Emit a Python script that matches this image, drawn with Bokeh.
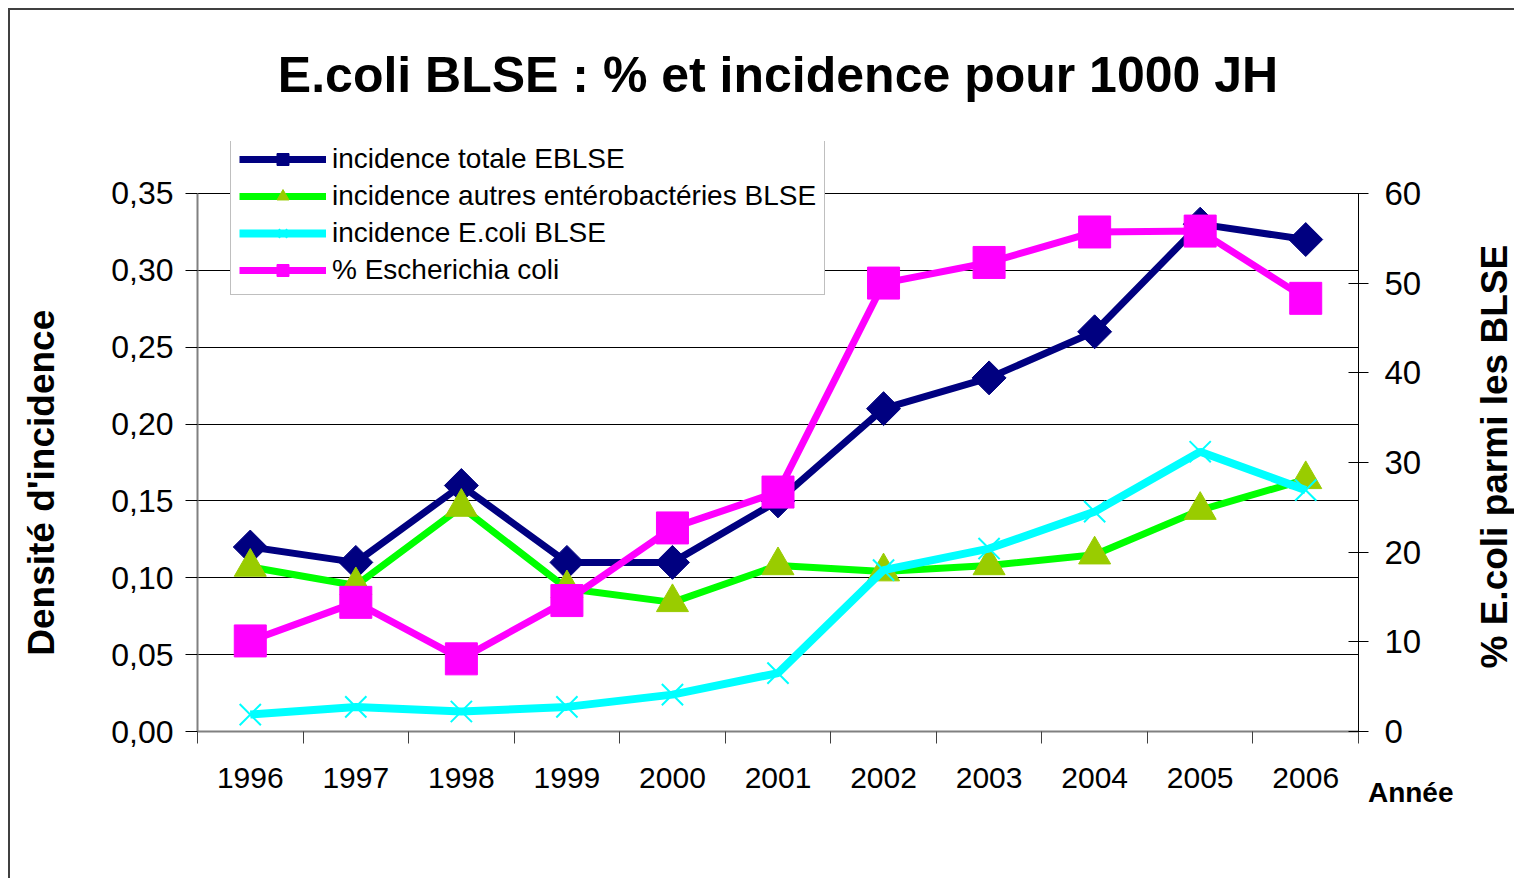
import math
from bokeh.plotting import figure
from bokeh.layouts import row
from bokeh.models import (Range1d, LinearAxis, FixedTicker, CustomJSTickFormatter,
                          Legend, LegendItem, Title)
from bokeh.embed import file_html
from bokeh.resources import INLINE

# ---- data ----
years = [1996, 1997, 1998, 1999, 2000, 2001, 2002, 2003, 2004, 2005, 2006]
incidence_totale = [0.12, 0.11, 0.16, 0.11, 0.11, 0.15, 0.21, 0.23, 0.26, 0.33, 0.32]
incidence_autres = [0.107, 0.095, 0.146, 0.093, 0.084, 0.108, 0.104, 0.108, 0.115, 0.144, 0.164]
incidence_ecoli = [0.011, 0.016, 0.013, 0.016, 0.024, 0.038, 0.105, 0.119, 0.143, 0.182, 0.157]
pct_ecoli = [10.1, 14.4, 8.1, 14.6, 22.7, 26.7, 50.0, 52.3, 55.7, 55.8, 48.3]
left_ticks = [0.0, 0.05, 0.10, 0.15, 0.20, 0.25, 0.30, 0.35]
right_ticks = [0, 10, 20, 30, 40, 50, 60]
year_labels = {y: str(y) for y in years}

title_text = "E.coli BLSE : % et incidence pour 1000 JH"
labels = ["incidence totale EBLSE", "incidence autres entérobactéries BLSE",
          "incidence E.coli BLSE", "% Escherichia coli"]
x_title = "Année"
left_title = "Densité d'incidence"
right_title = "% E.coli parmi les BLSE"

FONT = "Liberation Sans"
NBSP = "\u00a0"

# headroom above the top gridline so the legend (which straddles it) is not clipped
HEAD = 591 / 539
BORDER_TOP = 130
BORDER_BOTTOM = 147

p = figure(width=1448, height=868, output_backend="svg", toolbar_location=None,
           x_range=Range1d(years[0] - 0.5, years[-1] + 0.5),
           y_range=Range1d(left_ticks[0], left_ticks[-1] * HEAD),
           min_border_left=187, min_border_right=100,
           min_border_top=BORDER_TOP, min_border_bottom=BORDER_BOTTOM)
p.extra_y_ranges = {"right": Range1d(right_ticks[0], right_ticks[-1] * HEAD)}
p.outline_line_color = None
p.background_fill_color = "white"
p.border_fill_color = "white"

# title
p.title.text = title_text
p.title.align = "center"
p.title.vertical_align = "top"
p.title.text_font = FONT
p.title.text_font_size = "50px"
p.title.text_font_style = "bold"
p.title.text_color = "black"
p.title.standoff = 73

# x axis
boundaries = [y - 0.5 for y in years] + [years[-1] + 0.5]
xa = p.xaxis[0]
xa.ticker = FixedTicker(ticks=years, minor_ticks=boundaries)
xa.major_label_overrides = year_labels
xa.major_tick_in = 0
xa.major_tick_out = 0
xa.minor_tick_in = 0
xa.minor_tick_out = 12
xa.minor_tick_line_color = "#404040"
xa.axis_line_color = "#808080"
xa.axis_line_width = 2
xa.major_label_text_font = FONT
xa.major_label_text_font_size = "30px"
xa.major_label_text_color = "black"
xa.major_label_standoff = 24
p.xgrid.visible = False

# "Année" label to the right, below the axis
at = Title(text=x_title, align="right", offset=-95, text_font=FONT, text_font_size="28px",
           text_font_style="bold", text_color="black", standoff=-32)
p.add_layout(at, "below")

# left y axis
ya = p.yaxis[0]
ya.ticker = FixedTicker(ticks=left_ticks)
ya.bounds = (left_ticks[0], left_ticks[-1])
ya.formatter = CustomJSTickFormatter(code="return tick.toFixed(2).replace('.', ',');")
ya.major_tick_in = 0
ya.major_tick_out = 12
ya.minor_tick_line_color = None
ya.major_tick_line_color = "black"
ya.axis_line_color = "#808080"
ya.axis_line_width = 2
ya.major_label_text_font = FONT
ya.major_label_text_font_size = "32px"
ya.major_label_text_color = "black"
ya.major_label_standoff = 12
ya.axis_label = left_title + NBSP * 9
ya.axis_label_text_font = FONT
ya.axis_label_text_font_size = "37px"
ya.axis_label_text_font_style = "bold"
ya.axis_label_text_color = "black"
ya.axis_label_standoff = 46

p.ygrid.ticker = FixedTicker(ticks=left_ticks)
p.ygrid.grid_line_color = "black"
p.ygrid.grid_line_width = 1

# right y axis (its title is drawn in the narrow strip to the right)
ra = LinearAxis(y_range_name="right", ticker=FixedTicker(ticks=right_ticks))
ra.bounds = (right_ticks[0], right_ticks[-1])
ra.major_tick_in = 10
ra.major_tick_out = 10
ra.minor_tick_line_color = None
ra.axis_line_color = "black"
ra.axis_line_width = 1
ra.major_label_text_font = FONT
ra.major_label_text_font_size = "33px"
ra.major_label_text_color = "black"
ra.major_label_standoff = 16
p.add_layout(ra, "right")

# series
LW = 7
l1 = p.line(years, incidence_totale, line_color="#000080", line_width=LW)
m1 = p.scatter(years, incidence_totale, marker="square", size=24, angle=math.pi / 4,
               fill_color="#000080", line_color="#000080")
l2 = p.line(years, incidence_autres, line_color="#00FF00", line_width=LW)
m2 = p.scatter(years, incidence_autres, marker="triangle", size=32,
               fill_color="#99CC00", line_color="#99CC00")
l3 = p.line(years, incidence_ecoli, line_color="#00FFFF", line_width=8)
m3 = p.scatter(years, incidence_ecoli, marker="x", size=30, line_color="#00FFFF", line_width=2)
l4 = p.line(years, pct_ecoli, line_color="#FF00FF", line_width=LW, y_range_name="right")
m4 = p.scatter(years, pct_ecoli, marker="square", size=32, fill_color="#FF00FF",
               line_color="#FF00FF", y_range_name="right")

legend = Legend(items=[
    LegendItem(label=labels[0], renderers=[l1, m1]),
    LegendItem(label=labels[1], renderers=[l2, m2]),
    LegendItem(label=labels[2], renderers=[l3, m3]),
    LegendItem(label=labels[3], renderers=[l4, m4]),
], location=(33, 436))
legend.label_text_font = FONT
legend.label_text_font_size = "28px"
legend.label_text_color = "black"
legend.padding = 8
legend.spacing = 5
legend.glyph_width = 87
legend.glyph_height = 30
legend.label_height = 30
legend.label_standoff = 6
legend.margin = 0
legend.border_line_color = "#808080"
legend.border_line_width = 1
legend.background_fill_color = "white"
legend.background_fill_alpha = 1.0
p.add_layout(legend, "center")

# narrow strip holding the right-hand axis title, reading bottom to top
p2 = figure(width=56, height=868, output_backend="svg", toolbar_location=None,
            x_axis_type=None, y_axis_type=None,
            min_border_left=52, min_border_right=0,
            min_border_top=BORDER_TOP, min_border_bottom=BORDER_BOTTOM,
            title=right_title, title_location="left")
p2.outline_line_color = None
p2.background_fill_color = "white"
p2.border_fill_color = "white"
p2.xgrid.visible = False
p2.ygrid.visible = False
p2.title.align = "left"
p2.title.offset = 63
p2.title.vertical_align = "middle"
p2.title.text_font = FONT
p2.title.text_font_size = "37px"
p2.title.text_font_style = "bold"
p2.title.text_color = "black"
p2.title.standoff = -10

layout = row(p, p2, spacing=0,
             styles={"border-top": "2px solid #404040", "border-left": "2px solid #404040",
                     "margin-left": "8px", "margin-top": "8px"})

open("out.html", "w").write(file_html(layout, INLINE))
